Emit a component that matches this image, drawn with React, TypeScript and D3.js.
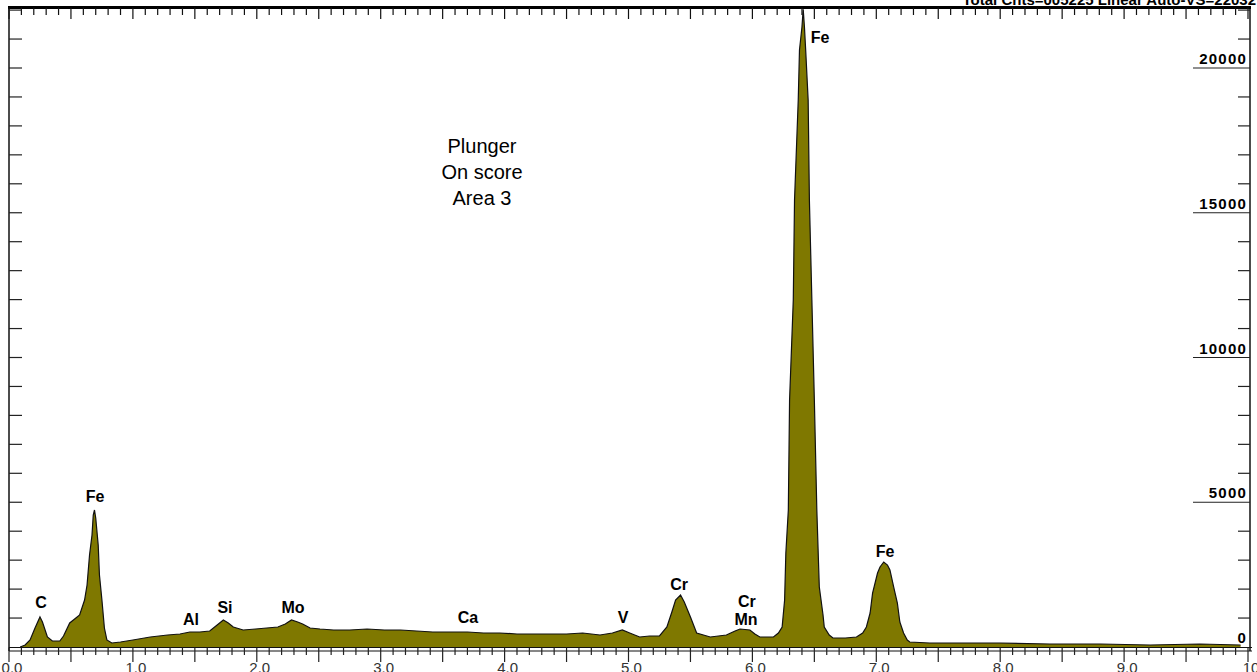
import React from "react";
import * as d3 from "d3";

// Spectrum: energy (keV) and counts
const energyKeV = [
  0.09, 0.13, 0.17, 0.21, 0.25, 0.27, 0.31, 0.35, 0.41, 0.44, 0.49, 0.53, 0.57, 0.61, 0.63, 0.65, 0.67, 0.68, 0.69, 0.70,
  0.72, 0.73, 0.75, 0.77, 0.79, 0.83, 0.90, 1.00, 1.14, 1.28, 1.38, 1.46, 1.54, 1.62, 1.67, 1.73, 1.77, 1.81, 1.89, 1.99,
  2.08, 2.17, 2.23, 2.28, 2.33, 2.37, 2.43, 2.51, 2.62, 2.75, 2.89, 3.03, 3.16, 3.29, 3.42, 3.56, 3.70, 3.83, 3.96, 4.10,
  4.23, 4.37, 4.50, 4.63, 4.77, 4.87, 4.95, 5.01, 5.09, 5.17, 5.25, 5.31, 5.35, 5.38, 5.42, 5.45, 5.50, 5.55, 5.66, 5.79,
  5.86, 5.90, 5.98, 6.02, 6.06, 6.17, 6.21, 6.24, 6.26, 6.27, 6.29, 6.30, 6.33, 6.34, 6.37, 6.38, 6.40, 6.41, 6.42, 6.43,
  6.45, 6.46, 6.48, 6.50, 6.52, 6.54, 6.57, 6.58, 6.62, 6.65, 6.75, 6.84, 6.89, 6.92, 6.95, 6.97, 7.01, 7.03, 7.06, 7.09,
  7.11, 7.14, 7.17, 7.19, 7.22, 7.25, 7.27, 7.43, 7.59, 8.00, 8.40, 8.81, 9.21, 9.61, 9.94,
];
const counts = [
  0, 69, 242, 656, 1036, 864, 345, 207, 207, 380, 829, 967, 1105, 1623, 2142, 3178, 3869, 4560, 4732, 4456,
  3523, 2487, 1623, 656, 242, 138, 173, 242, 345, 414, 449, 518, 518, 553, 725, 933, 829, 691, 587, 622,
  656, 691, 794, 933, 864, 794, 656, 622, 587, 587, 622, 587, 587, 553, 518, 518, 518, 484, 484, 449,
  449, 449, 449, 484, 414, 484, 587, 484, 345, 380, 380, 691, 1209, 1623, 1796, 1554, 1036, 484, 345, 414,
  553, 622, 587, 449, 345, 345, 484, 691, 1623, 3247, 4732, 8532, 11986, 15440, 18895, 20622, 21416, 22032, 21416, 20622,
  18895, 15440, 11986, 8532, 4732, 2073, 1105, 691, 414, 311, 311, 345, 484, 691, 1174, 1865, 2556, 2763, 2936, 2832,
  2660, 2073, 1520, 864, 484, 242, 173, 138, 138, 138, 104, 104, 69, 104, 69,
];

const xLabelValues = [0, 1, 2, 3, 4, 5, 6, 7, 8, 9, 10];
const xTickLabels = ["0.0", "1.0", "2.0", "3.0", "4.0", "5.0", "6.0", "7.0", "8.0", "9.0", "10"];
const yLabelValues = [0, 5000, 10000, 15000, 20000];
const yTickLabels = ["0", "5000", "10000", "15000", "20000"];

const peakNames = ["C", "Fe", "Al", "Si", "Mo", "Ca", "V", "Cr", "Cr", "Mn", "Fe", "Fe"];
const peakEnergy = [0.258, 0.694, 1.469, 1.743, 2.292, 3.705, 4.956, 5.408, 5.956, 5.948, 6.546, 7.07];
const peakLabelCounts = [1347, 5009, 760, 1174, 1174, 829, 829, 1969, 1382, 760, 20864, 3109];

const noteLines = ["Plunger", "On score", "Area 3"];
const headerText = "Total Cnts=005225 Linear  Auto-VS=22032";
const fullScale = 22032;

export default function App() {
  const W = 1257;
  const H = 672;
  const left = 9;
  const right = 1250;
  const top = 7.5;
  const x = d3.scaleLinear().domain([0, 10]).range([9, 1248]);
  const y = d3.scaleLinear().domain([0, fullScale]).range([647, 647 - fullScale * 0.02895]);

  const pts = energyKeV.map((e, i) => [e, counts[i]] as [number, number]);
  const area = d3
    .area<[number, number]>()
    .x((d) => x(d[0]))
    .y0(y(0))
    .y1((d) => y(d[1]));
  const line = d3
    .line<[number, number]>()
    .x((d) => x(d[0]))
    .y((d) => y(d[1]));

  const xMinor = x.ticks(100);
  const yMinor = d3.range(1000, 22001, 1000);
  const isMajorX = (v: number) => Math.abs(v * 2 - Math.round(v * 2)) < 1e-6;

  return (
    <svg
      width={W}
      height={H}
      style={{ position: "absolute", left: 0, top: 0, background: "#fff" }}
      fontFamily="Arial, 'Liberation Sans', sans-serif"
    >
      <rect x={0} y={0} width={W} height={H} fill="#fff" />
      {/* header */}
      <text x={1256} y={5} textAnchor="end" fontSize={15} fontWeight="bold" fill="#000">
        {headerText}
      </text>

      {/* spectrum */}
      <path d={area(pts) || ""} fill="#7f7800" />
      <path d={line(pts) || ""} fill="none" stroke="#111" strokeWidth={1.2} />

      {/* frame */}
      <line x1={left} x2={left} y1={top} y2={651} stroke="#111" strokeWidth={1.5} />
      <line x1={right} x2={right} y1={top} y2={651} stroke="#111" strokeWidth={1.5} />
      <line x1={left - 1} x2={right + 1} y1={top} y2={top} stroke="#000" strokeWidth={3} />
      <line x1={left} x2={1252} y1={647.5} y2={647.5} stroke="#111" strokeWidth={1.2} />
      <line x1={left} x2={1252} y1={651} y2={651} stroke="#111" strokeWidth={1.2} />

      {/* top ticks */}
      {xMinor.map((v, i) => (
        <line
          key={"tt" + i}
          x1={x(v)}
          x2={x(v)}
          y1={top}
          y2={isMajorX(v) ? 19 : 15}
          stroke="#111"
          strokeWidth={1.2}
        />
      ))}
      {/* bottom ticks */}
      {xMinor.map((v, i) => (
        <line
          key={"bt" + i}
          x1={x(v)}
          x2={x(v)}
          y1={647.5}
          y2={isMajorX(v) ? 662 : 655}
          stroke="#222"
          strokeWidth={1.2}
        />
      ))}
      {xLabelValues.map((v, i) => (
        <text key={"xl" + i} x={x(v) + 3} y={673} textAnchor="middle" fontSize={15} fill="#333">
          {xTickLabels[i]}
        </text>
      ))}

      {/* left ticks */}
      {yMinor.map((v, i) => (
        <line key={"lt" + i} x1={left} x2={22} y1={y(v)} y2={y(v)} stroke="#222" strokeWidth={1.2} />
      ))}
      {/* right ticks */}
      {yMinor.map((v, i) => (
        <line
          key={"rt" + i}
          x1={v % 5000 === 0 ? 1193 : 1238}
          x2={right}
          y1={y(v)}
          y2={y(v)}
          stroke="#222"
          strokeWidth={1.2}
        />
      ))}
      {yLabelValues.map((v, i) => (
        <text
          key={"yl" + i}
          x={1247}
          y={y(v) - 4}
          textAnchor="end"
          fontSize={15}
          fontWeight="bold"
          letterSpacing={1.2}
          fill="#000"
        >
          {yTickLabels[i]}
        </text>
      ))}

      {/* peak labels */}
      {peakNames.map((n, i) => (
        <text
          key={"pk" + i}
          x={x(peakEnergy[i])}
          y={y(peakLabelCounts[i])}
          textAnchor="middle"
          fontSize={16}
          fontWeight="bold"
          fill="#000"
        >
          {n}
        </text>
      ))}

      {/* note */}
      {noteLines.map((t, i) => (
        <text key={"nt" + i} x={482} y={153 + i * 26} textAnchor="middle" fontSize={20} fill="#000">
          {t}
        </text>
      ))}
    </svg>
  );
}
